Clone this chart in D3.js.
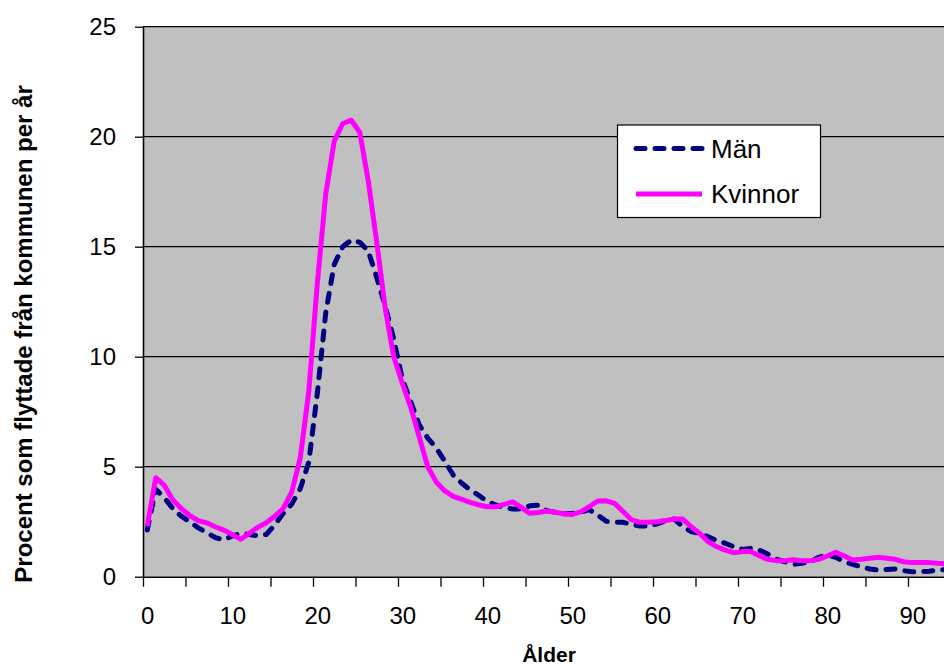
<!DOCTYPE html>
<html><head><meta charset="utf-8">
<script src="https://cdn.jsdelivr.net/npm/d3@7"></script>
<style>
html,body{margin:0;padding:0;background:#fff;overflow:hidden}
text{font-family:"Liberation Sans",Arial,sans-serif}
</style></head>
<body>
<svg id="chart" width="944" height="665"></svg>
<script>
const ages = d3.range(0, 96);
const kvinnor = [2.3,4.5,4.15,3.5,3.1,2.78,2.55,2.45,2.27,2.12,
 1.92,1.7,1.97,2.24,2.45,2.75,3.1,3.85,5.4,8.4,
 13.3,17.4,19.8,20.6,20.75,20.2,18.0,15.2,12.2,10.0,
 8.8,7.7,6.35,5.0,4.3,3.9,3.65,3.52,3.38,3.26,
 3.18,3.18,3.29,3.4,3.15,2.88,2.92,2.99,2.93,2.86,
 2.83,2.95,3.18,3.44,3.45,3.33,2.95,2.58,2.47,2.48,
 2.5,2.55,2.62,2.62,2.27,1.97,1.59,1.36,1.21,1.09,
 1.14,1.14,0.95,0.79,0.73,0.73,0.77,0.73,0.73,0.79,
 0.94,1.11,0.94,0.76,0.79,0.84,0.88,0.84,0.79,0.68,
 0.64,0.64,0.64,0.61,0.6,0.6];
const man = [2.12,3.97,3.6,3.1,2.75,2.5,2.22,2.0,1.78,1.67,
 1.85,1.97,1.92,1.86,1.92,2.35,2.88,3.3,4.0,5.2,
 8.3,12.0,14.2,15.0,15.3,15.2,14.8,13.6,12.3,10.8,
 9.0,7.95,6.9,6.3,5.85,5.25,4.62,4.25,3.95,3.7,
 3.42,3.26,3.14,3.08,3.08,3.22,3.25,3.0,2.93,2.86,
 2.88,2.93,3.05,2.8,2.52,2.48,2.47,2.38,2.3,2.3,
 2.4,2.55,2.62,2.27,2.05,1.97,1.82,1.64,1.52,1.36,
 1.24,1.29,1.21,1.03,0.8,0.68,0.56,0.61,0.68,0.88,
 0.99,0.88,0.68,0.56,0.45,0.35,0.3,0.33,0.35,0.27,
 0.23,0.23,0.25,0.3,0.32,0.33];
const yTicks = [0,5,10,15,20,25];
const xTickMarks = d3.range(0, 100, 5);
const xTickLabels = [0,10,20,30,40,50,60,70,80,90];
const seriesNames = ["Män","Kvinnor"];
const yTitle = "Procent som flyttade från kommunen per år";
const xTitle = "Ålder";

const svg = d3.select("#chart");
const mLeft = 143, mTop = 26.7, mBottom = 576.7;
const x = d3.scaleLinear().domain([0, 96]).range([mLeft, mLeft + 96*8.5]);
const y = d3.scaleLinear().domain([0, 25]).range([mBottom, mTop]);
const mRight = x(96);

svg.append("rect").attr("x", mLeft).attr("y", mTop)
  .attr("width", mRight-mLeft).attr("height", mBottom-mTop).attr("fill", "#c0c0c0");

// gridlines
svg.append("g").selectAll("line").data(yTicks.filter(d=>d>0)).join("line")
  .attr("x1", mLeft).attr("x2", mRight)
  .attr("y1", d=>y(d)).attr("y2", d=>y(d))
  .attr("stroke", "#000").attr("stroke-width", 1.3);

// y axis
const yAxis = svg.append("g").attr("transform", `translate(${mLeft},0)`)
  .call(d3.axisLeft(y).tickValues(yTicks).tickSize(8).tickPadding(19).tickSizeOuter(0));
yAxis.select(".domain").attr("stroke", "#000").attr("stroke-width", 1.6);
yAxis.selectAll(".tick line").attr("stroke", "#000").attr("stroke-width", 1.3);
yAxis.selectAll(".tick text").attr("font-size", 24).attr("fill", "#000")
  .attr("font-family", "Liberation Sans, Arial, sans-serif");

// x axis tick marks
const xAxis = svg.append("g").attr("transform", `translate(0,${mBottom})`)
  .call(d3.axisBottom(x).tickValues(xTickMarks).tickSize(10).tickFormat("").tickSizeOuter(0));
xAxis.select(".domain").attr("stroke", "#000").attr("stroke-width", 1.6);
xAxis.selectAll(".tick line").attr("stroke", "#000").attr("stroke-width", 1.3);
// x labels centred on categories
const xLab = svg.append("g").attr("transform", `translate(0,${mBottom})`)
  .call(d3.axisBottom(x).tickValues(xTickLabels.map(d=>d+0.5)).tickSize(0).tickPadding(30)
    .tickFormat(d=>String(d-0.5)));
xLab.select(".domain").remove();
xLab.selectAll(".tick text").attr("font-size", 24).attr("fill", "#000")
  .attr("font-family", "Liberation Sans, Arial, sans-serif");

// lines
const line = vals => d3.line().x((d,i)=>x(ages[i]+0.5)).y(d=>y(d))(vals);
svg.append("path").attr("d", line(man)).attr("fill","none")
  .attr("stroke","#000080").attr("stroke-width",5)
  .attr("stroke-dasharray","9,10").attr("stroke-linecap","round").attr("stroke-linejoin","round");
svg.append("path").attr("d", line(kvinnor)).attr("fill","none")
  .attr("stroke","#ff00ff").attr("stroke-width",5).attr("stroke-linejoin","round");

// legend
const lg = svg.append("g");
lg.append("rect").attr("x",617.5).attr("y",125).attr("width",203).attr("height",92.5)
  .attr("fill","#fff").attr("stroke","#000").attr("stroke-width",1.2);
const legendItems = [
  {name: seriesNames[0], color:"#000080", dash:"9,10", cy:148.5},
  {name: seriesNames[1], color:"#ff00ff", dash:null, cy:194}
];
legendItems.forEach(it=>{
  lg.append("line").attr("x1",636).attr("x2",702).attr("y1",it.cy).attr("y2",it.cy)
    .attr("stroke",it.color).attr("stroke-width",5)
    .attr("stroke-dasharray",it.dash).attr("stroke-linecap", it.dash?"round":"butt");
  lg.append("text").attr("x",711).attr("y",it.cy+9).attr("font-size",26)
    .attr("fill","#000").text(it.name);
});

// titles
svg.append("text").attr("x",549).attr("y",662).attr("text-anchor","middle")
  .attr("font-size",21).attr("font-weight","bold").text(xTitle);
svg.append("text").attr("transform","translate(32,334) rotate(-90)").attr("text-anchor","middle")
  .attr("font-size",24).attr("font-weight","bold").text(yTitle);
</script>
</body></html>
